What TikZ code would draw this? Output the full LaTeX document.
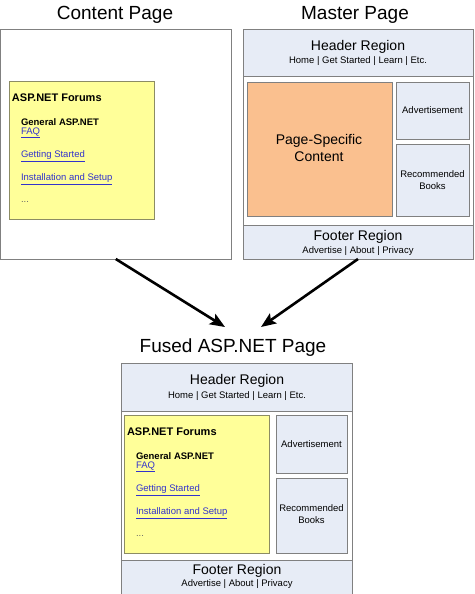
\documentclass[tikz,border=0pt]{standalone}
\usepackage{fontspec}
\setmainfont{Liberation Sans}
\usetikzlibrary{arrows.meta}
\definecolor{boxgray}{RGB}{128,128,128}
\definecolor{regionblue}{RGB}{231,236,246}
\definecolor{forumyellow}{RGB}{255,255,153}
\definecolor{forumedge}{RGB}{140,140,100}
\definecolor{specorange}{RGB}{250,192,143}
\definecolor{linkblue}{RGB}{51,51,204}
\begin{document}
\begin{tikzpicture}[
        x=1pt, y=-1pt,
        every node/.style={inner sep=0pt, outer sep=0pt},
        pagebox/.style={draw=boxgray, fill=white, line width=0.8pt, rectangle, anchor=north west},
        region/.style={draw=boxgray, fill=regionblue, line width=0.8pt, rectangle, anchor=north west},
        forum/.style={draw=forumedge, fill=forumyellow, line width=0.8pt, rectangle, anchor=north west},
        spec/.style={draw=boxgray, fill=specorange, line width=0.8pt, rectangle, anchor=north west},
        title/.style={font=\fontsize{19}{22}\selectfont},
        regtitle/.style={font=\fontsize{14}{16.5}\selectfont, align=center},
        small/.style={font=\fontsize{9.5}{11.5}\selectfont, align=center},
        forumline/.style={font=\fontsize{9.5}{11.5}\selectfont, anchor=west},
        link/.style={forumline, text=linkblue},
        merge/.style={line width=2.6pt, -{Stealth[length=15pt, width=12pt, inset=3pt]}},
    ]
    \useasboundingbox (0,0) rectangle (474,594);

    % titles
    \node[title] (cptitle) at (115,15) {Content Page};
    \node[title] (mptitle) at (355,15) {Master Page};
    \node[title] (fptitle) at (233,348) {Fused ASP.NET Page};

    % content page
    \node[pagebox, minimum width=230.5pt, minimum height=230pt] (cp) at (0.5,29) {};

    % master page
    \node[pagebox, minimum width=230pt, minimum height=230pt] (mp) at (243,29) {};
    \node[region, minimum width=230pt, minimum height=47pt] (mphead) at (243,29) {};
    \node[region, minimum width=230pt, minimum height=34pt] (mpfoot) at (243,225) {};
    \node[spec, minimum width=145pt, minimum height=134pt] (mpspec) at (247,82) {};
    \node[region, minimum width=73pt, minimum height=57pt] (mpad) at (396,82) {};
    \node[region, minimum width=73pt, minimum height=72pt] (mpbooks) at (396,144) {};
    \node[regtitle] (mpheadT) at (358,47) {Header Region};
    \node[small] (mpheadS) at (358,61) {Home | Get Started | Learn | Etc.};
    \node[regtitle] (mpfootT) at (358,237) {Footer Region};
    \node[small] (mpfootS) at (358,251) {Advertise | About | Privacy};
    \node[regtitle] (mpspecT) at (319,148) {Page-Specific\\Content};
    \node[small] (mpadT) at (432.5,110) {Advertisement};
    \node[small] (mpbooksT) at (432.5,180) {Recommended\\Books};

    % fused page
    \node[pagebox, minimum width=231pt, minimum height=240pt] (fp) at (121,363) {};
    \node[region, minimum width=231pt, minimum height=48pt] (fphead) at (121,363) {};
    \node[region, minimum width=231pt, minimum height=40pt] (fpfoot) at (121,560) {};
    \node[region, minimum width=71pt, minimum height=58pt] (fpad) at (276,415) {};
    \node[region, minimum width=71pt, minimum height=75pt] (fpbooks) at (276,478) {};
    \node[regtitle] (fpheadT) at (237,381) {Header Region};
    \node[small] (fpheadS) at (237,396) {Home | Get Started | Learn | Etc.};
    \node[regtitle] (fpfootT) at (237,571) {Footer Region};
    \node[small] (fpfootS) at (237,584) {Advertise | About | Privacy};
    \node[small] (fpadT) at (311.5,444) {Advertisement};
    \node[small] (fpbooksT) at (311.5,514) {Recommended\\Books};

    % forum boxes
    \foreach \fx/\fy/\fn in {9/81/cf, 124/415/ff}{
        \node[forum, minimum width=145pt, minimum height=138pt] (\fn) at (\fx,\fy) {};
        \node[anchor=west, font=\bfseries\fontsize{11}{13}\selectfont] (\fn name) at (\fx+3,\fy+17) {ASP.NET Forums};
        \node[forumline, font=\bfseries\fontsize{9.5}{11.5}\selectfont] (\fn general) at (\fx+12,\fy+41) {General ASP.NET};
        \node[link] (\fn faq) at (\fx+12,\fy+52) {\underline{FAQ}};
        \node[link] (\fn start) at (\fx+12,\fy+75) {\underline{Getting Started}};
        \node[link] (\fn setup) at (\fx+12,\fy+98) {\underline{Installation and Setup}};
        \node[forumline, text=black!60] (\fn more) at (\fx+12,\fy+121) {...};
    }

    % merge arrows
    \coordinate (leftend) at (225,327);
    \coordinate (rightend) at (261,327);
    \draw[merge] (cp.south) -- (leftend);
    \draw[merge] (mp.south) -- (rightend);
    \end{tikzpicture}
\end{document}
